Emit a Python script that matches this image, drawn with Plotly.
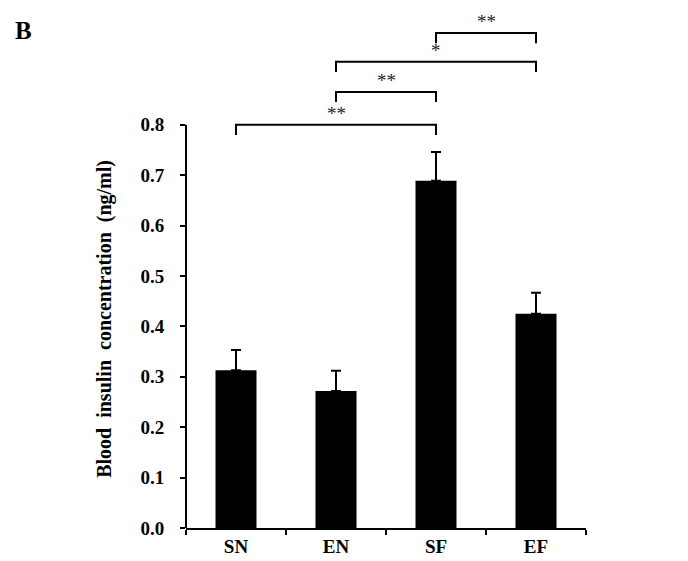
import plotly.graph_objects as go

groups = ["SN", "EN", "SF", "EF"]
insulin = [0.313, 0.272, 0.689, 0.425]
sem = [0.040, 0.040, 0.057, 0.042]

# significance brackets: (left group, right group, height, label)
brackets = [
    ("SN", "SF", 0.800, "**"),
    ("EN", "SF", 0.865, "**"),
    ("EN", "EF", 0.925, "*"),
    ("SF", "EF", 0.982, "**"),
]

font = "Liberation Serif"
ticks_y = [0, 0.1, 0.2, 0.3, 0.4, 0.5, 0.6, 0.7, 0.8]

fig = go.Figure()
fig.add_trace(go.Bar(
    x=groups, y=insulin, width=0.41,
    marker=dict(color="black", line=dict(width=0)),
    error_y=dict(type="data", array=sem, arrayminus=[0] * len(sem), symmetric=False,
                 color="black", thickness=2, width=5),
))

# y axis line only up to 0.8, brackets live above it
fig.add_shape(type="line", xref="paper", yref="y", x0=0, x1=0, y0=0, y1=0.8,
              line=dict(color="black", width=2))

drop = 0.02
for a, b, h, lab in brackets:
    xa, xb = groups.index(a), groups.index(b)
    fig.add_shape(type="path", xref="x", yref="y",
                  path=f"M {xa},{h - drop} L {xa},{h} L {xb},{h} L {xb},{h - drop}",
                  line=dict(color="black", width=2))
    fig.add_annotation(x=(xa + xb) / 2, y=h, xref="x", yref="y", text=lab, showarrow=False,
                       xanchor="center", yanchor="bottom", yshift=-1,
                       font=dict(family=font, size=19, color="#222"))

fig.add_annotation(x=-0.2025, y=0.415, xref="paper", yref="y",
                   text="<b>Blood&nbsp; insulin&nbsp; concentration&nbsp; (ng/ml)</b>",
                   xanchor="center", yanchor="middle",
                   textangle=-90, showarrow=False, font=dict(family=font, size=20, color="black"))
fig.add_annotation(x=-0.4075, y=0.988, xref="paper", yref="paper", text="<b>B</b>",
                   xanchor="center", yanchor="middle",
                   showarrow=False, font=dict(family=font, size=25, color="black"))

fig.update_layout(
    width=688, height=561,
    margin=dict(l=186, r=102, t=24, b=33, autoexpand=False),
    plot_bgcolor="white", paper_bgcolor="white",
    showlegend=False,
    font=dict(family=font, size=18, color="black"),
)
fig.update_xaxes(
    automargin=False,
    showline=True, linecolor="black", linewidth=2,
    ticks="outside", tickson="boundaries", ticklen=5, tickwidth=2, tickcolor="black",
    tickvals=groups, ticktext=["<b>%s</b>" % g for g in groups],
    tickfont=dict(family=font, size=19, color="black"),
    showgrid=False, range=[-0.5, 3.5],
)
fig.update_yaxes(
    automargin=False,
    range=[0, 1.0], showline=False, showgrid=False, zeroline=False,
    tickvals=ticks_y, ticktext=["<b>%.1f</b>" % v for v in ticks_y],
    ticks="outside", ticklen=5, tickwidth=2, tickcolor="black", ticklabelstandoff=12,
    tickfont=dict(family=font, size=19, color="black"),
)

# the page's default body margin would shift the figure by 8px
fig.write_html("out.html", config={"displayModeBar": False},
               post_script="document.body.style.margin = '0';")
